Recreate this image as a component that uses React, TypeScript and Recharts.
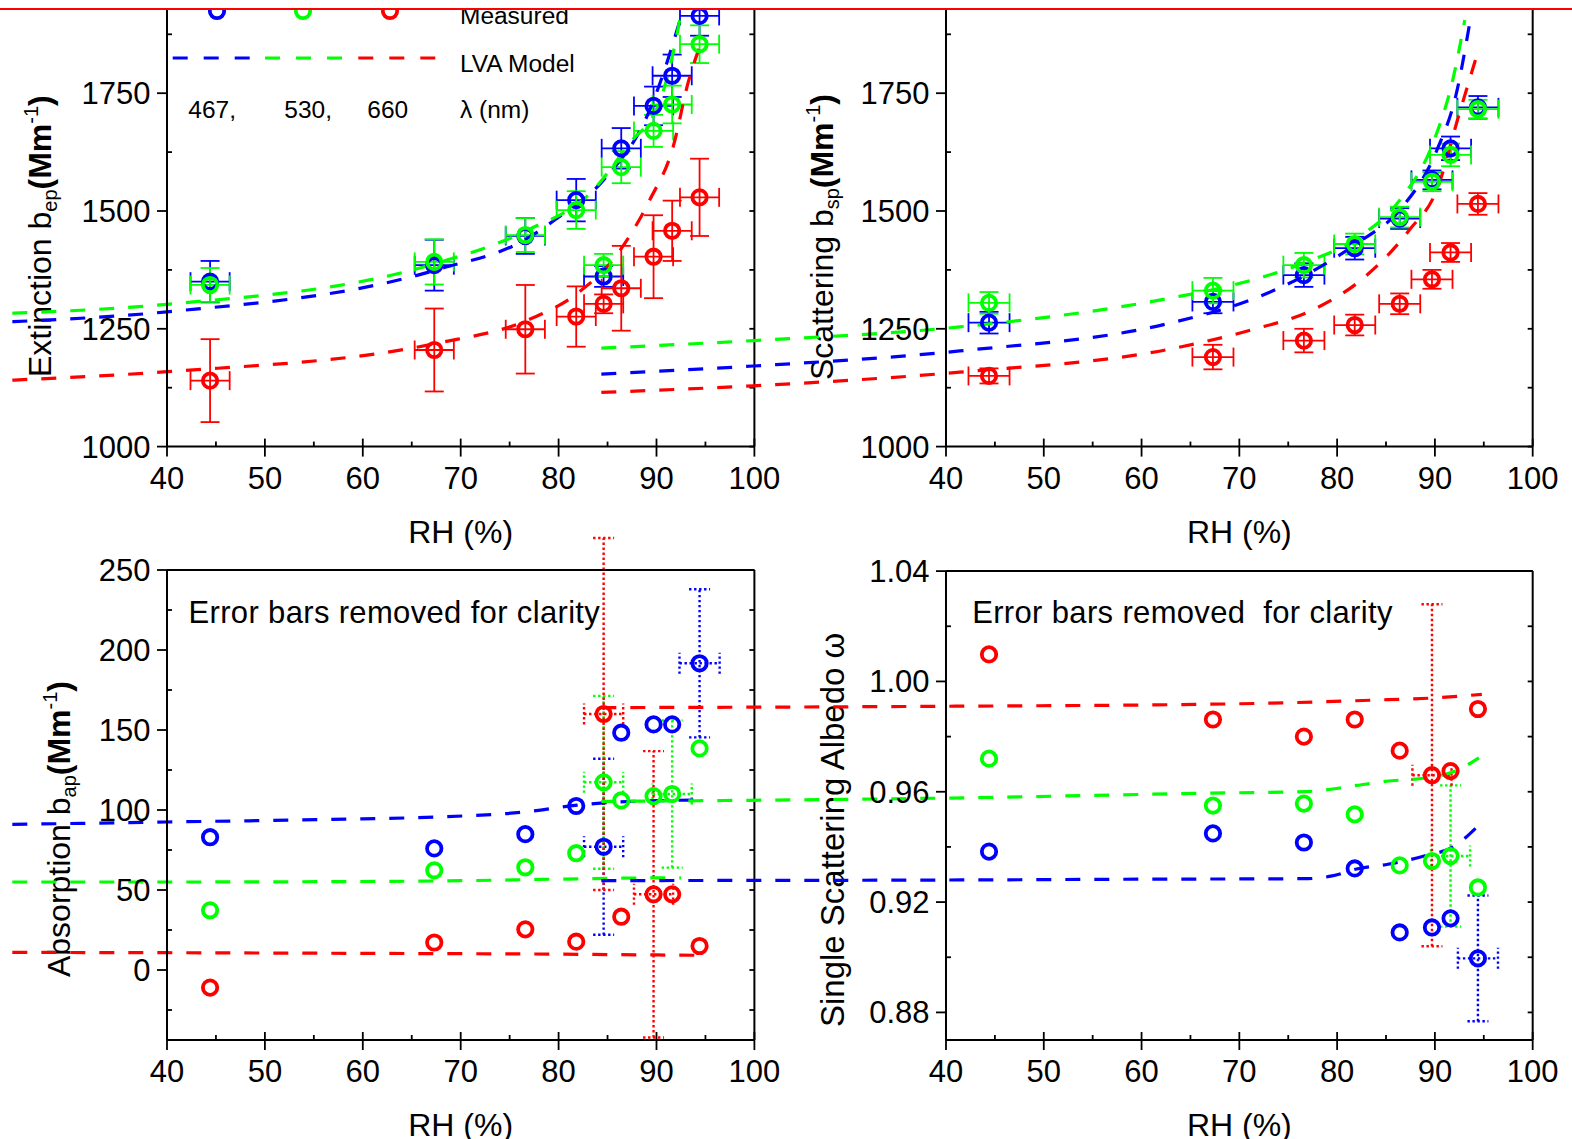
import React from "react"
import { ComposedChart, Scatter, Line, XAxis, YAxis, ErrorBar } from "recharts"

const BLUE = "#0000ff"
const GREEN = "#00ff00"
const RED = "#ff0000"
const FONT = "'Liberation Sans', Arial, Helvetica, sans-serif"

// ---------- axis ticks ----------
const xMajor = [40, 50, 60, 70, 80, 90, 100]
const xMinor = [45, 55, 65, 75, 85, 95]
const bMajor = [1000, 1250, 1500, 1750, 2000]
const bMinor = [1125, 1375, 1625, 1875]
const absMajor = [0, 50, 100, 150, 200, 250]
const absMinor = [-25, 25, 75, 125, 175, 225]
const ssaMajor = [0.88, 0.92, 0.96, 1.0, 1.04]
const ssaMinor = [0.9, 0.94, 0.98, 1.02]

// ---------- measured RH ----------
const rhExt = [44.4, 67.3, 76.6, 81.8, 84.6, 86.4, 89.7, 91.6, 94.4]
const rhSca = [44.4, 67.3, 76.6, 81.8, 86.4, 89.7, 91.6, 94.4]

// extinction (Mm-1)
const extBlue = [1350, 1385, 1447, 1523, 1361, 1633, 1723, 1787, 1914]
const extGreen = [1343, 1392, 1449, 1502, 1385, 1593, 1670, 1726, 1854]
const extRed = [1140, 1205, 1249, 1276, 1303, 1336, 1403, 1458, 1529]
const extBlueErr = [44, 54, 38, 45, 22, 43, 41, 45, 42]
const extGreenErr = [36, 48, 36, 40, 24, 34, 34, 40, 40]
const extRedErr = [88, 88, 94, 64, 20, 90, 88, 64, 82]
const extRhErr = [2, 2, 2, 2, 2, 2, 2, 2, 2]

// scattering (Mm-1)
const scaBlue = [1263, 1307, 1364, 1421, 1484, 1566, 1633, 1720]
const scaGreen = [1305, 1331, 1385, 1430, 1487, 1562, 1619, 1716]
const scaRed = [1150, 1190, 1225, 1258, 1303, 1355, 1412, 1515]
const scaBlueErr = [23, 24, 25, 24, 22, 20, 25, 24]
const scaGreenErr = [23, 27, 26, 22, 22, 20, 24, 20]
const scaRedErr = [16, 26, 25, 22, 22, 20, 20, 23]
const scaRhErr = [2.1, 2.1, 2.1, 2.1, 2.1, 2.1, 2.1, 2.1]

// absorption (Mm-1)
const absBlue = [83, 76, 84.9, 102.5, 77, 148.3, 153.5, 153.5, 191.7]
const absGreen = [37.3, 62.3, 64.2, 73, 117.3, 106, 108.7, 110, 138.5]
const absRed = [-11, 17.2, 25.4, 17.7, 160, 33.3, 47.3, 47.3, 15]
const absBlueErr = [null, null, null, null, 55, null, null, null, 46.3]
const absBlueRhErr = [null, null, null, null, 2, null, null, null, 2.05]
const absGreenErr = [null, null, null, null, 54, null, null, 46, null]
const absGreenRhErr = [null, null, null, null, 2, null, null, 2, null]
const absRedErr = [null, null, null, null, 110, null, 89.5, null, null]
const absRedRhErr = [null, null, null, null, 2, null, 2, null, null]

// single scattering albedo
const ssaBlue = [0.9383, 0.9449, 0.9416, 0.9322, 0.909, 0.9108, 0.9141, 0.8996]
const ssaGreen = [0.972, 0.955, 0.9557, 0.9518, 0.9333, 0.9349, 0.9367, 0.9253]
const ssaRed = [1.0098, 0.9862, 0.98, 0.9862, 0.9749, 0.966, 0.9675, 0.99]
const ssaBlueErr = [null, null, null, null, null, null, null, 0.0228]
const ssaBlueRhErr = [null, null, null, null, null, null, null, 2.05]
const ssaGreenErr = [null, null, null, null, null, null, 0.0256, null]
const ssaGreenRhErr = [null, null, null, null, null, null, 2, null]
const ssaRedErr = [null, null, null, null, null, 0.062, null, null]
const ssaRedRhErr = [null, null, null, null, null, 2, null, null]

// ---------- LVA model curves ----------
const mExtBlueRh = [24.2, 40, 67.5, 76.9, 79.6, 84.6, 89.3, 92.1, 92.7]
const mExtBlue = [1265, 1286, 1375, 1443, 1481, 1566, 1714, 1884, 1927]
const mExtGreenRh = [24.2, 40, 67.5, 76.9, 83.4, 87.1, 90.4, 91.5, 92.6]
const mExtGreen = [1283, 1302, 1389, 1460, 1541, 1640, 1736, 1817, 1930]
const mExtRedRh = [24.2, 40, 67.5, 76.9, 81.9, 85.8, 89.3, 91.7, 93.25, 94.4]
const mExtRed = [1141, 1159, 1219, 1269, 1325, 1403, 1523, 1636, 1774, 1848]

const mScaBlueRh = [4.75, 20.3, 41.4, 62.9, 71.1, 76.5, 82, 86.7, 90.2, 92.2, 93.7]
const mScaBlue = [1154, 1171, 1203, 1262, 1311, 1361, 1431, 1509, 1629, 1750, 1916]
const mScaGreenRh = [4.75, 20.3, 41.4, 62.9, 69.4, 76.5, 82, 86.4, 89.8, 91.9, 93.05]
const mScaGreen = [1209, 1225, 1254, 1315, 1343, 1389, 1442, 1523, 1644, 1785, 1905]
const mScaRedRh = [4.75, 20.3, 41.4, 62.9, 71.1, 77.5, 82.65, 87.4, 90.2, 92.5, 94.4]
const mScaRed = [1115, 1129, 1158, 1207, 1247, 1290, 1357, 1460, 1545, 1707, 1838]

const mAbsBlueRh = [24.2, 40, 60, 67.5, 76.9, 81.9, 86, 90, 94.4]
const mAbsBlue = [91, 92.5, 94.5, 95.6, 99, 103, 105, 105.8, 106.3]
const mAbsGreenRh = [24.2, 40, 60, 70, 80, 88, 92.5]
const mAbsGreen = [55, 55, 55.3, 55.8, 56.8, 57.5, 57.6]
const mAbsRedRh = [24.2, 40, 60, 80, 90, 94.4]
const mAbsRed = [11, 10.8, 10.4, 9.9, 9.4, 9.2]

const mSsaBlueRh = [4.75, 40, 60, 77, 79.5, 82, 85.2, 88.9, 92, 94.4, 94.8]
const mSsaBlue = [0.9278, 0.928, 0.9283, 0.9285, 0.9295, 0.932, 0.9337, 0.9367, 0.9403, 0.9476, 0.949]
const mSsaGreenRh = [4.75, 40, 67, 77, 82, 85, 89, 92.3, 94.5]
const mSsaGreen = [0.9565, 0.9577, 0.9595, 0.9601, 0.9623, 0.9638, 0.965, 0.9678, 0.9723]
const mSsaRedRh = [4.75, 40, 70, 85.2, 89.8, 92.3, 94.8]
const mSsaRed = [0.9905, 0.991, 0.9919, 0.9934, 0.994, 0.9946, 0.9953]

type Err = (number | null)[]
type Pt = { x: number; y: number; ex?: number | null; ey?: number | null }

const pts = (xs: number[], ys: number[], ex?: Err, ey?: Err): Pt[] =>
  xs.map((x, i) => ({ x, y: ys[i], ex: ex ? ex[i] : null, ey: ey ? ey[i] : null }))

type Side = "bottom" | "top" | "left" | "right"

const RING_R = 7.2
const RING_W = 3.8

function makeTick(side: Side, major: number[], fmt?: (v: number) => string) {
  return (p: any) => {
    const v: number = p.payload?.value
    const big = major.some((m) => Math.abs(m - v) < 1e-9)
    const x: number = p.x
    const y: number = p.y
    let s: number[]
    if (side === "bottom") s = big ? [x, y - 8, x, y + 10] : [x, y - 5, x, y]
    else if (side === "top") s = big ? [x, y, x, y + 8] : [x, y, x, y + 5]
    else if (side === "left") s = big ? [x - 10, y, x, y] : [x, y, x + 5, y]
    else s = [x - 5, y, x, y]
    return (
      <g>
        <line x1={s[0]} y1={s[1]} x2={s[2]} y2={s[3]} stroke="#000" strokeWidth={1.8} />
        {fmt && big && side === "bottom" && (
          <text x={x} y={y + 42} textAnchor="middle" fontSize={31} fontFamily={FONT} fill="#000">
            {fmt(v)}
          </text>
        )}
        {fmt && big && side === "left" && (
          <text x={x - 16.5} y={y + 11} textAnchor="end" fontSize={31} fontFamily={FONT} fill="#000">
            {fmt(v)}
          </text>
        )}
      </g>
    )
  }
}

const ring = (color: string) => (p: any) =>
  <circle cx={p.cx} cy={p.cy} r={RING_R} fill="none" stroke={color} strokeWidth={RING_W} />

interface Series {
  color: string
  data: Pt[]
}

interface PanelProps {
  frame: { left: number; right: number; top: number; bottom: number }
  pad: { l: number; r: number; t: number; b: number }
  yDomain: [number, number]
  yMajor: number[]
  yMinor: number[]
  yFmt: (v: number) => string
  scatter: Series[]
  models: Series[]
  dotted?: boolean
  extras: (px: (x: number) => number, py: (y: number) => number) => React.ReactNode
}

function Panel({ frame, pad, yDomain, yMajor, yMinor, yFmt, scatter, models, dotted, extras }: PanelProps) {
  const left = frame.left - pad.l
  const top = frame.top - pad.t
  const width = frame.right - frame.left + pad.l + pad.r
  const height = frame.bottom - frame.top + pad.t + pad.b
  const px = (x: number) => x - left
  const py = (y: number) => y - top
  const xTicks = [...xMajor, ...xMinor].sort((a, b) => a - b)
  const yTicks = [...yMajor, ...yMinor].sort((a, b) => a - b)
  const axisLine = { stroke: "#000", strokeWidth: 2 }
  const err = dotted
    ? { strokeWidth: 2.4, strokeDasharray: "2.4 2.6", width: 10.5 }
    : { strokeWidth: 1.8, width: 9.5 }

  return (
    <div style={{ position: "absolute", left, top, width, height }}>
      <ComposedChart width={width} height={height} margin={{ top: 0, right: 0, bottom: 0, left: 0 }}>
        <XAxis xAxisId="b" dataKey="x" type="number" domain={[40, 100]} allowDataOverflow ticks={xTicks}
          interval={0} height={pad.b} tickSize={0} tickMargin={0} tickLine={false} axisLine={axisLine}
          tick={makeTick("bottom", xMajor, (v) => String(v))} />
        <XAxis xAxisId="t" orientation="top" type="number" domain={[40, 100]} allowDataOverflow ticks={xTicks}
          interval={0} height={pad.t} tickSize={0} tickMargin={0} tickLine={false} axisLine={axisLine}
          tick={makeTick("top", xMajor)} />
        <YAxis yAxisId="l" dataKey="y" type="number" domain={yDomain} allowDataOverflow ticks={yTicks}
          interval={0} width={pad.l} tickSize={0} tickMargin={0} tickLine={false} axisLine={axisLine}
          tick={makeTick("left", yMajor, yFmt)} />
        <YAxis yAxisId="r" orientation="right" type="number" domain={yDomain} allowDataOverflow ticks={yTicks}
          interval={0} width={pad.r} tickSize={0} tickMargin={0} tickLine={false} axisLine={axisLine}
          tick={makeTick("right", yMajor)} />
        {scatter.map((s, i) => (
          <Scatter key={"s" + i} xAxisId="b" yAxisId="l" data={s.data} shape={ring(s.color)} isAnimationActive={false}>
            <ErrorBar dataKey="ex" direction="x" stroke={s.color} {...err} />
            <ErrorBar dataKey="ey" direction="y" stroke={s.color} {...err} />
          </Scatter>
        ))}
        {models.map((m, i) => (
          <Line key={"m" + i} xAxisId="b" yAxisId="l" data={m.data} dataKey="y" type="monotone" stroke={m.color}
            strokeWidth={3.2} strokeDasharray="15 14" dot={false} activeDot={false} isAnimationActive={false} />
        ))}
        <text x={px((frame.left + frame.right) / 2)} y={py(frame.bottom + 96)} textAnchor="middle"
          fontSize={32} fontFamily={FONT} fill="#000">RH (%)</text>
        {extras(px, py)}
      </ComposedChart>
    </div>
  )
}

function YTitle({ x, y, main, sub }: { x: number; y: number; main: string; sub: string }) {
  return (
    <text x={x} y={y} transform={`rotate(-90 ${x} ${y})`} fontSize={32} fontFamily={FONT} fill="#000">
      {main}
      <tspan fontSize={20} dy={6}>{sub}</tspan>
      <tspan fontWeight="bold" dy={-6}>(Mm</tspan>
      <tspan fontSize={20} dy={-13}>-1</tspan>
      <tspan fontWeight="bold" dy={13}>)</tspan>
    </text>
  )
}

const TOP_FRAME = { top: -24.6, bottom: 446.6 }
const BOT_FRAME_C = { top: 570, bottom: 1040 }
const BOT_FRAME_D = { top: 571.1, bottom: 1040 }

export default function App() {
  const legendText = { fontSize: 24.5, fontFamily: FONT, fill: "#000" }
  const noteText = { fontSize: 31, fontFamily: FONT, fill: "#000", letterSpacing: 0.35 }
  return (
    <div className="fig" style={{ position: "absolute", left: 0, top: 0, width: 1572, height: 1139, overflow: "hidden", background: "#fff" }}>
      <style>{`.fig svg{overflow:visible} .fig [clip-path]{clip-path:none !important}`}</style>

      <Panel
        frame={{ left: 167, right: 754.4, ...TOP_FRAME }}
        pad={{ l: 167, r: 20, t: 15.4, b: 110 }}
        yDomain={[1000, 2000]} yMajor={bMajor} yMinor={bMinor} yFmt={(v) => String(v)}
        scatter={[
          { color: BLUE, data: pts(rhExt, extBlue, extRhErr, extBlueErr) },
          { color: GREEN, data: pts(rhExt, extGreen, extRhErr, extGreenErr) },
          { color: RED, data: pts(rhExt, extRed, extRhErr, extRedErr) },
        ]}
        models={[
          { color: BLUE, data: pts(mExtBlueRh, mExtBlue) },
          { color: GREEN, data: pts(mExtGreenRh, mExtGreen) },
          { color: RED, data: pts(mExtRedRh, mExtRed) },
        ]}
        extras={(px, py) => (
          <g>
            <YTitle x={px(51)} y={py(377)} main="Extinction b" sub="ep" />
            <circle cx={px(217)} cy={py(11)} r={RING_R} fill="none" stroke={BLUE} strokeWidth={RING_W} />
            <circle cx={px(303)} cy={py(11)} r={RING_R} fill="none" stroke={GREEN} strokeWidth={RING_W} />
            <circle cx={px(390)} cy={py(11)} r={RING_R} fill="none" stroke={RED} strokeWidth={RING_W} />
            <line x1={px(172.7)} x2={px(250)} y1={py(58)} y2={py(58)} stroke={BLUE} strokeWidth={3.2} strokeDasharray="15 16" />
            <line x1={px(265)} x2={px(343)} y1={py(58)} y2={py(58)} stroke={GREEN} strokeWidth={3.2} strokeDasharray="15 16" />
            <line x1={px(358.3)} x2={px(436)} y1={py(58)} y2={py(58)} stroke={RED} strokeWidth={3.2} strokeDasharray="15 16" />
            <text x={px(460)} y={py(24)} {...legendText}>Measured</text>
            <text x={px(460)} y={py(71.7)} {...legendText}>LVA Model</text>
            <text x={px(188.3)} y={py(118.3)} {...legendText}>467,</text>
            <text x={px(284.3)} y={py(118.3)} {...legendText}>530,</text>
            <text x={px(367.3)} y={py(118.3)} {...legendText}>660</text>
            <text x={px(460)} y={py(118.3)} {...legendText}>λ (nm)</text>
          </g>
        )}
      />

      <Panel
        frame={{ left: 946.3, right: 1533, ...TOP_FRAME }}
        pad={{ l: 160, r: 30, t: 15.4, b: 110 }}
        yDomain={[1000, 2000]} yMajor={bMajor} yMinor={bMinor} yFmt={(v) => String(v)}
        scatter={[
          { color: BLUE, data: pts(rhSca, scaBlue, scaRhErr, scaBlueErr) },
          { color: GREEN, data: pts(rhSca, scaGreen, scaRhErr, scaGreenErr) },
          { color: RED, data: pts(rhSca, scaRed, scaRhErr, scaRedErr) },
        ]}
        models={[
          { color: BLUE, data: pts(mScaBlueRh, mScaBlue) },
          { color: GREEN, data: pts(mScaGreenRh, mScaGreen) },
          { color: RED, data: pts(mScaRedRh, mScaRed) },
        ]}
        extras={(px, py) => <YTitle x={px(833)} y={py(380)} main="Scattering b" sub="sp" />}
      />

      <Panel
        frame={{ left: 167, right: 754.4, ...BOT_FRAME_C }}
        pad={{ l: 167, r: 20, t: 30, b: 110 }}
        yDomain={[-43.75, 250]} yMajor={absMajor} yMinor={absMinor} yFmt={(v) => String(v)}
        dotted
        scatter={[
          { color: BLUE, data: pts(rhExt, absBlue, absBlueRhErr, absBlueErr) },
          { color: GREEN, data: pts(rhExt, absGreen, absGreenRhErr, absGreenErr) },
          { color: RED, data: pts(rhExt, absRed, absRedRhErr, absRedErr) },
        ]}
        models={[
          { color: BLUE, data: pts(mAbsBlueRh, mAbsBlue) },
          { color: GREEN, data: pts(mAbsGreenRh, mAbsGreen) },
          { color: RED, data: pts(mAbsRedRh, mAbsRed) },
        ]}
        extras={(px, py) => (
          <g>
            <YTitle x={px(70)} y={py(977)} main="Absorption b" sub="ap" />
            <text x={px(188.5)} y={py(623)} {...noteText}>Error bars removed for clarity</text>
          </g>
        )}
      />

      <Panel
        frame={{ left: 946.3, right: 1533, ...BOT_FRAME_D }}
        pad={{ l: 160, r: 30, t: 31.1, b: 110 }}
        yDomain={[0.87, 1.04]} yMajor={ssaMajor} yMinor={ssaMinor} yFmt={(v) => v.toFixed(2)}
        dotted
        scatter={[
          { color: BLUE, data: pts(rhSca, ssaBlue, ssaBlueRhErr, ssaBlueErr) },
          { color: GREEN, data: pts(rhSca, ssaGreen, ssaGreenRhErr, ssaGreenErr) },
          { color: RED, data: pts(rhSca, ssaRed, ssaRedRhErr, ssaRedErr) },
        ]}
        models={[
          { color: BLUE, data: pts(mSsaBlueRh, mSsaBlue) },
          { color: GREEN, data: pts(mSsaGreenRh, mSsaGreen) },
          { color: RED, data: pts(mSsaRedRh, mSsaRed) },
        ]}
        extras={(px, py) => (
          <g>
            <text x={px(844)} y={py(1027)} transform={`rotate(-90 ${px(844)} ${py(1027)})`} fontSize={33}
              fontFamily={FONT} fill="#000">Single Scattering Albedo ω</text>
            <text x={px(972.5)} y={py(623)} {...noteText} style={{ whiteSpace: "pre" }}>
              Error bars removed  for clarity
            </text>
          </g>
        )}
      />

      <div style={{ position: "absolute", left: 0, top: 0, width: 1572, height: 8.3, background: "#fff", zIndex: 5 }} />
      <div style={{ position: "absolute", left: 0, top: 8.3, width: 1572, height: 1.7, background: RED, zIndex: 6 }} />
    </div>
  )
}
